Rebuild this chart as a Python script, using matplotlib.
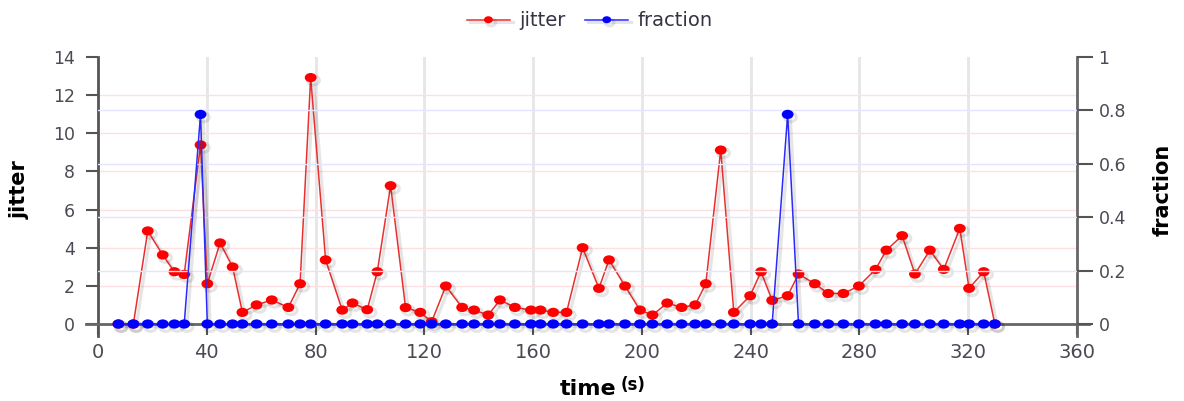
import matplotlib
matplotlib.use("Agg")
import matplotlib.pyplot as plt
from matplotlib.path import Path
from matplotlib.transforms import Affine2D
import matplotlib.patheffects as pe

# ---- data ----
time_s = [7.5, 13, 18.3, 23.8, 28.1, 31.7, 37.7, 40.2, 44.9, 49.5, 53.1, 58.3, 63.9, 70, 74.3,
          78.2, 83.7, 89.8, 93.6, 99, 102.7, 107.6, 113.1, 118.5, 122.7, 127.9, 133.9, 138.3,
          143.5, 147.8, 153.3, 159.2, 162.7, 167.4, 172.3, 178.2, 184.2, 187.9, 193.8, 199.3,
          203.9, 209.3, 214.6, 219.6, 223.5, 229, 233.8, 239.8, 243.8, 247.9, 253.6, 257.6,
          263.6, 268.5, 274.1, 279.8, 285.9, 289.9, 295.7, 300.4, 305.9, 311, 316.9, 320.3,
          325.7, 329.8]
jitter = [0, 0, 4.88, 3.62, 2.74, 2.6, 9.39, 2.11, 4.25, 2.99, 0.61, 1.0, 1.26, 0.87, 2.11,
          12.92, 3.36, 0.73, 1.1, 0.75, 2.74, 7.25, 0.86, 0.61, 0.12, 1.99, 0.87, 0.73,
          0.47, 1.26, 0.87, 0.73, 0.73, 0.61, 0.61, 4.0, 1.87, 3.36, 1.99, 0.73,
          0.47, 1.1, 0.87, 1.0, 2.11, 9.12, 0.61, 1.48, 2.74, 1.24, 1.48, 2.62,
          2.11, 1.6, 1.6, 1.99, 2.86, 3.87, 4.63, 2.62, 3.87, 2.86, 5.01, 1.87,
          2.74, 0]
fraction = [0, 0, 0, 0, 0, 0, 0.785, 0, 0, 0, 0, 0, 0, 0, 0,
            0, 0, 0, 0, 0, 0, 0, 0, 0, 0, 0, 0, 0,
            0, 0, 0, 0, 0, 0, 0, 0, 0, 0, 0, 0,
            0, 0, 0, 0, 0, 0, 0, 0, 0, 0, 0.785, 0,
            0, 0, 0, 0, 0, 0, 0, 0, 0, 0, 0, 0,
            0, 0]
x_ticks = [0, 40, 80, 120, 160, 200, 240, 280, 320, 360]
left_ticks = [0, 2, 4, 6, 8, 10, 12, 14]
right_ticks = [0, 0.2, 0.4, 0.6, 0.8, 1]
right_labels = ["0", "0.2", "0.4", "0.6", "0.8", "1"]

# ---- figure ----
fig = plt.figure(figsize=(11.84, 4.01), dpi=100)
ax = fig.add_axes([98 / 1184, 1 - 324 / 401, 979 / 1184, 267 / 401])
ax2 = ax.twinx()

ellipse = Path.unit_circle().transformed(Affine2D().scale(1.15, 0.9))
tick_col = "#4a4a55"

ax.set_xlim(0, 360)
ax.set_ylim(0, 14)
ax2.set_ylim(0, 1)

# grids
for xv in x_ticks[1:-1]:
    ax.axvline(xv, color="#e6e6e6", lw=2, zorder=0)
for yv in left_ticks[1:-1]:
    ax.axhline(yv, color="#ffe0e0", lw=1, zorder=0)
for yv in right_ticks[1:-1]:
    ax2.axhline(yv, color="#e4e4ff", lw=1, zorder=0)

shadow = [pe.SimpleLineShadow(offset=(2, -2), shadow_color="black", alpha=0.10, linewidth=2.2),
          pe.Normal()]
l1, = ax.plot(time_s, jitter, color="#e83030", lw=1.1, marker=ellipse, markersize=8.5,
              markeredgewidth=0, markerfacecolor="#ff0000", label="jitter", clip_on=False,
              zorder=3, path_effects=shadow)
l2, = ax2.plot(time_s, fraction, color="#2a2aff", lw=1.1, marker=ellipse, markersize=8.5,
               markeredgewidth=0, markerfacecolor="#0000ff", label="fraction", clip_on=False,
               zorder=3, path_effects=shadow)

# spines replaced by overshooting lines
for a in (ax, ax2):
    for s in a.spines.values():
        s.set_visible(False)
    a.patch.set_visible(False)
ext_x = 12 / 979
ext_y = 12 / 267
ax.plot([0, 0], [-ext_y, 1], transform=ax.transAxes, color="#555555", lw=2, clip_on=False)
ax.plot([-ext_x, 1 + ext_x], [0, 0], transform=ax.transAxes, color="#666666", lw=2, clip_on=False)
ax.plot([1, 1], [-ext_y, 1], transform=ax.transAxes, color="#666666", lw=2, clip_on=False)

ax.set_xticks(x_ticks)
ax.set_xticklabels([str(v) for v in x_ticks], fontsize=14, color=tick_col)
ax.tick_params(axis="x", direction="out", length=8, width=1.5, color="#555555", pad=6)
ax.set_yticks(left_ticks)
ax.set_yticklabels([str(v) for v in left_ticks], fontsize=12.5, color=tick_col)
ax.tick_params(axis="y", direction="out", length=8.5, width=1.5, color="#555555", pad=8)
ax2.set_yticks(right_ticks)
ax2.set_yticklabels(right_labels, fontsize=12.5, color=tick_col)
ax2.tick_params(axis="y", direction="out", length=11.5, width=1.5, color="#555555", pad=4)

fig.text(20 / 1184, 1 - 190 / 401, "jitter", rotation=90, ha="center", va="center",
         fontweight="bold", fontsize=15)
fig.text(1163 / 1184, 1 - 190 / 401, "fraction", rotation=90, ha="center", va="center",
         fontweight="bold", fontsize=15)
fig.text(588 / 1184, 1 - 389 / 401, "time", ha="center", va="center",
         fontweight="bold", fontsize=16)
fig.text(621 / 1184, 1 - 385 / 401, "(s)", ha="left", va="center",
         fontweight="bold", fontsize=12)

fig.legend(handles=[l1, l2], labels=["jitter", "fraction"], loc="center",
           bbox_to_anchor=(590 / 1184, 1 - 21 / 401), ncol=2, frameon=False,
           fontsize=14, handlelength=2.2, handletextpad=0.5, columnspacing=1.0,
           labelcolor="#333344", markerscale=0.75)

fig.savefig("out.png", dpi=100)
